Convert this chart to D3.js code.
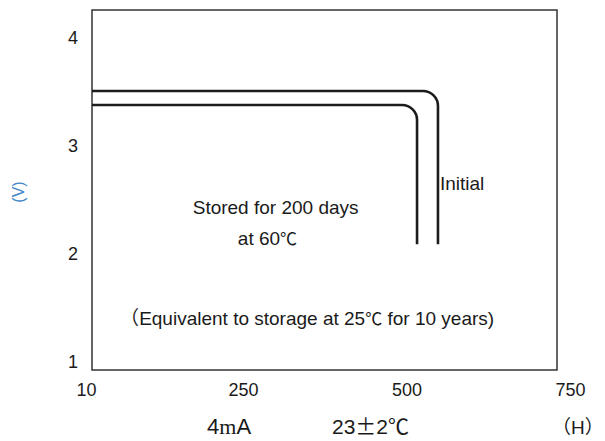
<!DOCTYPE html>
<html>
<head>
<meta charset="utf-8">
<script src="https://cdn.jsdelivr.net/npm/d3@7"></script>
<style>
  body { margin: 0; background: #fff; }
  svg { display: block; }
</style>
</head>
<body>
<div id="container"></div>
<script>
const width = 605;
const height = 441;

// data
const xTicks = [10, 250, 500, 750];
const yTicks = [1, 2, 3, 4];
const seriesNames = ["Initial", "Stored"];
const initialHours = [19, 548, 548];
const initialVolts = [3.51, 3.51, 2.09];
const storedHours = [19, 516, 516];
const storedVolts = [3.38, 3.38, 2.09];
const storedLabel = ["Stored for 200 days", "at 60"];
const notePrefix = "\uFF08";
const noteLabel = ["Equivalent to storage at 25", " for 10 years)"];
const degC = "\u2103";

const svg = d3.select("#container").append("svg")
  .attr("width", width)
  .attr("height", height);

const x = d3.scaleLinear().domain([19, 730]).range([92, 557]);
const y = d3.scaleLinear().domain([0.926, 4.26]).range([370, 10]);

const font = "'Liberation Sans', Arial, sans-serif";
const cjk = "'Noto Sans CJK SC', sans-serif";
const ink = "#1a1a1a";

// frame
svg.append("rect")
  .attr("x", x.range()[0])
  .attr("y", y.range()[1])
  .attr("width", x.range()[1] - x.range()[0])
  .attr("height", y.range()[0] - y.range()[1])
  .attr("fill", "none")
  .attr("stroke", "#333")
  .attr("stroke-width", 1.5);

// axes
const yAxis = svg.append("g")
  .attr("transform", `translate(${x.range()[0]},0)`)
  .call(d3.axisLeft(y).tickValues(yTicks).tickSize(0).tickPadding(14).tickFormat(d3.format("d")));
const xAxis = svg.append("g")
  .attr("transform", `translate(0,${y.range()[0]})`)
  .call(d3.axisBottom(x).tickValues(xTicks).tickSize(0).tickPadding(13).tickFormat(d3.format("d")));
[xAxis, yAxis].forEach(a => {
  a.select(".domain").remove();
  a.selectAll("text")
    .attr("font-family", font)
    .attr("font-size", 18)
    .attr("fill", ink);
});

// curves with rounded corner
const series = [
  { name: seriesNames[0], pts: initialHours.map((h, i) => [h, initialVolts[i]]) },
  { name: seriesNames[1], pts: storedHours.map((h, i) => [h, storedVolts[i]]) }
];
const cornerR = 15;
function cornerPath(pts) {
  const p = d3.path();
  const [a, b, c] = pts.map(d => [x(d[0]), y(d[1])]);
  p.moveTo(a[0], a[1]);
  p.arcTo(b[0], b[1], c[0], c[1], cornerR);
  p.lineTo(c[0], c[1]);
  return p.toString();
}
svg.selectAll(".curve").data(series).enter()
  .append("path")
  .attr("class", "curve")
  .attr("d", d => cornerPath(d.pts))
  .attr("fill", "none")
  .attr("stroke", "#1c1c1c")
  .attr("stroke-width", 2.6);

// labels
function label(px, py, size) {
  return svg.append("text")
    .attr("x", px)
    .attr("y", py)
    .attr("font-family", font)
    .attr("font-size", size)
    .attr("fill", ink);
}

label(x(551), y(2.59), 19).text(seriesNames[0]);
label(x(173), y(2.37), 19).text(storedLabel[0]);
const at60 = label(x(242), y(2.08), 19);
at60.append("tspan").text(storedLabel[1]);
at60.append("tspan").text(degC).attr("font-family", cjk).attr("font-size", 17);

const note = label(x(62), y(1.34), 19);
note.append("tspan").text(notePrefix).attr("font-family", cjk);
note.append("tspan").text(noteLabel[0]);
note.append("tspan").text(degC).attr("font-family", cjk).attr("font-size", 17);
note.append("tspan").text(noteLabel[1]);

// y unit
svg.append("text")
  .text("(V)")
  .attr("transform", "translate(24,192) rotate(-90)")
  .attr("text-anchor", "middle")
  .attr("font-family", font)
  .attr("font-size", 16)
  .attr("fill", "#3f86c8");

// bottom conditions
const bottomY = 434;
const cond = label(207, bottomY, 22);
cond.append("tspan").text("4");
cond.append("tspan").text("m").attr("font-family", "'Liberation Serif', serif");
cond.append("tspan").text("A");

const temp = label(332, bottomY, 21);
temp.append("tspan").text("23");
temp.append("tspan").text("\u00B1").attr("font-family", cjk);
temp.append("tspan").text("2");
temp.append("tspan").text(degC).attr("font-family", cjk);

const unitH = label(552, bottomY, 19);
unitH.append("tspan").text("\uFF08").attr("font-family", cjk);
unitH.append("tspan").text("H");
unitH.append("tspan").text("\uFF09").attr("font-family", cjk);
</script>
</body>
</html>
